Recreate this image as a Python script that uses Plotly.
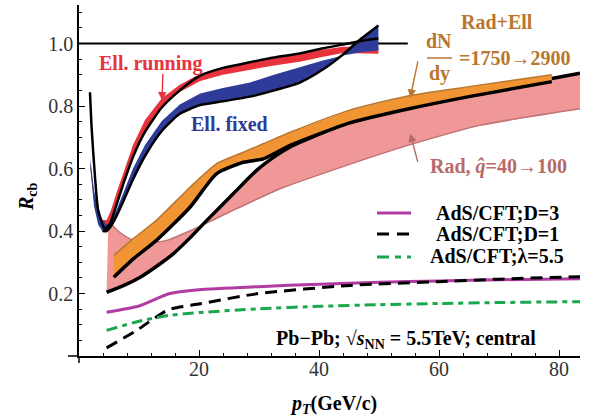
import plotly.graph_objects as go

# ---------------- data ----------------
# AdS/CFT curves
ads_x = [4.6, 10, 15, 20, 30, 40, 50, 60, 70, 83.5]
ads_d3 = [0.14, 0.16, 0.199, 0.212, 0.222, 0.230, 0.236, 0.240, 0.244, 0.247]
ads_d1_x = [4.6, 9.6, 14.9, 20.2, 29.6, 45.2, 60, 70, 83.5]
ads_d1 = [0.026, 0.082, 0.148, 0.167, 0.199, 0.226, 0.238, 0.246, 0.254]
ads_lam = [0.082, 0.111, 0.130, 0.139, 0.151, 0.159, 0.164, 0.168, 0.171, 0.174]

# Rad band (pink): upper black curve C and lower edge P
radC_x = [4.6, 7.5, 10.2, 13, 15.7, 18.5, 21.3, 25.7, 29.6, 32.9, 35.2, 45, 55, 65, 78.8, 83.5]
radC_y = [0.204, 0.226, 0.252, 0.288, 0.327, 0.378, 0.434, 0.519, 0.594, 0.642, 0.669, 0.748, 0.797, 0.838, 0.888, 0.905]
radP_x = [4.9, 6.5, 8.5, 11, 14.6, 19.6, 25, 33.5, 44.6, 54.8, 66.8, 83.5]
radP_y = [0.433, 0.40, 0.375, 0.362, 0.37, 0.41, 0.46, 0.535, 0.61, 0.674, 0.738, 0.791]

# Rad+Ell band (orange): top edge and lower black curve
re_x = [5.8, 9, 12.9, 18.5, 22.9, 27.4, 30.7, 35.2, 45, 55, 65, 78.8]
re_top = [0.322, 0.375, 0.434, 0.540, 0.615, 0.652, 0.679, 0.716, 0.786, 0.833, 0.862, 0.900]
re_bot = [0.252, 0.31, 0.370, 0.476, 0.583, 0.620, 0.631, 0.674, 0.745, 0.791, 0.83, 0.878]

# Ell. running (red) and Ell. fixed (blue) bands
ell_x = [1.9, 2.5, 3.2, 3.9, 4.6, 5.3, 6.3, 7.5, 9, 11, 13.8, 16.8, 20.2, 24, 28.5, 32.5, 36.8, 40.5, 44, 47, 49.9]
run_hi = [0.62, 0.52, 0.46, 0.435, 0.435, 0.465, 0.525, 0.595, 0.675, 0.755, 0.825, 0.868, 0.903, 0.925, 0.94, 0.955, 0.967, 0.98, 0.99, 0.99, 0.988]
run_lo = [0.60, 0.50, 0.44, 0.415, 0.415, 0.435, 0.49, 0.56, 0.64, 0.72, 0.795, 0.845, 0.88, 0.90, 0.915, 0.93, 0.942, 0.957, 0.97, 0.968, 0.967]
fix_hi = [0.63, 0.53, 0.465, 0.437, 0.42, 0.43, 0.47, 0.53, 0.60, 0.675, 0.752, 0.805, 0.84, 0.858, 0.875, 0.9, 0.924, 0.945, 0.962, 0.972, 0.978]
fix_lo = [0.60, 0.48, 0.42, 0.40, 0.40, 0.415, 0.45, 0.50, 0.565, 0.64, 0.72, 0.775, 0.803, 0.815, 0.83, 0.85, 0.875, 0.915, 0.965, 1.015, 1.058]
# black curve of the running case (with low-pT spike)
k1_x = [1.83, 2.1, 2.67, 3.2, 4.33, 5.2, 6.3, 7.5, 9, 11, 13.8, 16.8, 20.2, 24, 28.5, 32.5, 36.8, 40.5, 44, 47, 49.9]
k1_y = [0.844, 0.732, 0.572, 0.466, 0.407, 0.425, 0.487, 0.557, 0.637, 0.717, 0.795, 0.85, 0.897, 0.922, 0.94, 0.955, 0.968, 0.984, 0.997, 1.008, 1.016]

ref_x = [0, 54.8]
ref_y = [1.0, 1.0]

xticks = [20, 40, 60, 80]
yticks = [0.2, 0.4, 0.6, 0.8, 1.0]
ytick_text = ["0.2", "0.4", "0.6", "0.8", "1.0"]

# ---------------- colours ----------------
RED = "#e8323c"
BLUE = "#2f3b98"
ORANGE = "#f19433"
ORANGE_EDGE = "#b8762e"
PINK = "#f09898"
PINK_EDGE = "#c07474"
MAGENTA = "#b23aa0"
GREEN = "#19a84c"
SERIF = "Liberation Serif"

fig = go.Figure()


def band(x, hi, lo, color, xl=None):
    xs = list(x) + list(xl if xl is not None else x)[::-1]
    ys = list(hi) + list(lo)[::-1]
    fig.add_trace(go.Scatter(x=xs, y=ys, fill="toself", fillcolor=color,
                             line=dict(width=0), mode="lines", hoverinfo="skip",
                             showlegend=False))


def line(x, y, color, width=3.5, dash="solid"):
    fig.add_trace(go.Scatter(x=x, y=y, mode="lines", line=dict(color=color, width=width, dash=dash,
                                                              shape="spline", smoothing=0.6),
                             hoverinfo="skip", showlegend=False))


# reference line at 1
fig.add_trace(go.Scatter(x=ref_x, y=ref_y, mode="lines", line=dict(color="black", width=2),
                         hoverinfo="skip", showlegend=False))

# pink Rad band
band(radC_x, radC_y, radP_y, PINK, xl=radP_x)
line(radP_x, radP_y, PINK_EDGE, width=1.5)
line(radC_x, radC_y, "black", width=3.5)

# orange Rad+Ell band
band(re_x, re_top, re_bot, ORANGE)
line(re_x, re_top, ORANGE_EDGE, width=1.5)
line(re_x, re_bot, "black", width=3.5)

# Ell bands
band(ell_x, run_hi, run_lo, RED)
band(ell_x, fix_hi, fix_lo, BLUE)
line(k1_x, k1_y, "black", width=2.5)
line(ell_x[3:], fix_lo[3:], "black", width=2.5)

# AdS/CFT
line(ads_x, ads_d3, MAGENTA, width=3)
line(ads_d1_x, ads_d1, "black", width=3, dash="12px,7px")
line(ads_x, ads_lam, GREEN, width=3, dash="11px,5px,5px,5px")

# ---------------- annotations ----------------
ann = []


def txt(x, y, s, color="black", size=20, xanchor="center", **kw):
    ann.append(dict(x=x, y=y, xref="paper", yref="paper", text=s, showarrow=False,
                    font=dict(family=SERIF, size=size, color=color), xanchor=xanchor,
                    yanchor="middle", **kw))


def px(xp, yp):
    return (xp - 79) / 501, (356 - yp) / 351


TXT_BROWN = ORANGE_EDGE
TXT_PINK = "#b86a6a"

txt(*px(150, 63), "<b>Ell. running</b>", RED)
txt(*px(229, 124), "<b>Ell. fixed</b>", BLUE)
txt(*px(497, 22), "<b>Rad+Ell</b>", TXT_BROWN)
txt(*px(439, 41), "<b>dN</b>", TXT_BROWN)
txt(*px(439, 73), "<b>dy</b>", TXT_BROWN)
txt(*px(514, 58), "<b>=1750→2900</b>", TXT_BROWN)
txt(*px(498, 166), "<b>Rad, <i>q̂</i>=40→100</b>", TXT_PINK)

txt(*px(497, 213), "<b>AdS/CFT;D=3</b>")
txt(*px(497, 234), "<b>AdS/CFT;D=1</b>")
txt(*px(497, 256), "<b>AdS/CFT;λ=5.5</b>")

txt(*px(406, 339), "<b>Pb−Pb; √<i>s</i><sub>NN</sub> = 5.5TeV; central</b>", size=20)

txt(*px(333, 404), "<b><i>p</i><sub><i>T</i></sub>(GeV/c)</b>")
txt(*px(27, 197), "<b><i>R</i><sub>cb</sub></b>", textangle=-90)

# arrows
ann.append(dict(x=13.83, y=0.818, xref="x", yref="y", ax=1, ay=-28, showarrow=True,
                arrowhead=2, arrowsize=1.2, arrowwidth=1.4, arrowcolor=RED, text=""))
ann.append(dict(x=55.2, y=0.826, xref="x", yref="y", ax=8, ay=-38, showarrow=True,
                arrowhead=2, arrowsize=1.2, arrowwidth=1.4, arrowcolor=TXT_BROWN, text=""))
ann.append(dict(x=55.2, y=0.712, xref="x", yref="y", ax=8, ay=30, showarrow=True,
                arrowhead=2, arrowsize=1.2, arrowwidth=1.4, arrowcolor=TXT_PINK, text=""))

shapes = []


def pline(xa, ya, xb, yb, color, width=1.5, dash="solid"):
    a, b = px(xa, ya)
    c, d = px(xb, yb)
    shapes.append(dict(type="line", xref="paper", yref="paper", x0=a, y0=b, x1=c, y1=d,
                       line=dict(color=color, width=width, dash=dash)))


# fraction bar
pline(427, 58, 452, 58, TXT_BROWN)
# legend samples
pline(377, 213, 411, 213, MAGENTA, 3)
pline(377, 234, 411, 234, "black", 3, "12px,8px")
pline(377, 257, 411, 257, GREEN, 3, "12px,6px,6px,6px")
# axis extensions (Mathematica-style crossing axes)
pline(68, 356, 79, 356, "black")
pline(79, 356, 79, 363, "black")

fig.update_layout(
    width=594, height=420,
    margin=dict(l=79, r=14, t=5, b=64),
    plot_bgcolor="white", paper_bgcolor="white",
    annotations=ann, shapes=shapes, showlegend=False,
    xaxis=dict(range=[0, 83.5], showgrid=False, zeroline=False, showline=True, linecolor="black",
               linewidth=1.5, ticks="inside", ticklen=6, tickwidth=1.2, tickcolor="black",
               tickvals=xticks, tickfont=dict(family=SERIF, size=20, color="#333"),
               ticklabelstandoff=-6,
               minor=dict(dtick=4, tick0=0, ticks="inside", ticklen=3, tickcolor="black", tickwidth=1)),
    yaxis=dict(range=[0, 1.1232], showgrid=False, zeroline=False, showline=True, linecolor="black",
               linewidth=1.5, ticks="inside", ticklen=6, tickwidth=1.2, tickcolor="black",
               tickvals=yticks, ticktext=ytick_text, tickfont=dict(family=SERIF, size=20, color="#333"),
               minor=dict(dtick=0.05, tick0=0, ticks="inside", ticklen=3, tickcolor="black", tickwidth=1)),
)

fig.write_html("out.html")
